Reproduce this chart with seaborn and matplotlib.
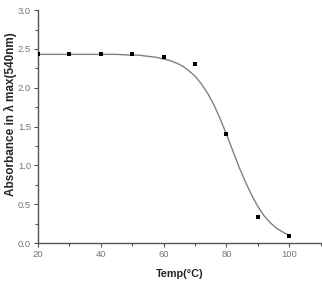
import matplotlib
matplotlib.use("Agg")
import matplotlib.pyplot as plt
from matplotlib.ticker import MultipleLocator, FormatStrFormatter
import seaborn as sns

# measured points
temp = [20, 30, 40, 50, 60, 70, 80, 90, 100]
absorbance = [2.43, 2.43, 2.43, 2.43, 2.40, 2.30, 1.40, 0.33, 0.09]

# fitted curve
fit_temp = [20, 25, 30, 35, 40, 45, 50, 52, 54, 56, 58, 60, 62, 64, 66, 68, 70,
            72, 74, 76, 78, 80, 82, 84, 86, 88, 90, 92, 94, 96, 98, 100]
fit_abs = [2.43, 2.43, 2.43, 2.43, 2.43, 2.43, 2.42, 2.42, 2.41, 2.40, 2.39,
           2.37, 2.35, 2.32, 2.28, 2.22, 2.15, 2.05, 1.93, 1.78, 1.60, 1.40,
           1.19, 0.98, 0.79, 0.62, 0.47, 0.35, 0.26, 0.19, 0.14, 0.10]

sns.set_style("ticks")
plt.rcParams['font.family'] = ['Liberation Sans', 'DejaVu Sans']

fig = plt.figure(figsize=(3.22, 2.81), dpi=100)
ax = fig.add_axes([0.118, 0.135, 0.878, 0.829])

sns.lineplot(x=fit_temp, y=fit_abs, ax=ax, color="#808080", linewidth=1.0)
sns.scatterplot(x=temp, y=absorbance, ax=ax, marker="s", s=11, color="black",
                edgecolor="black", linewidth=0, zorder=3)

ax.set_xlim(20, 110)
ax.set_ylim(0, 3.0)
ax.xaxis.set_major_locator(MultipleLocator(20))
ax.xaxis.set_minor_locator(MultipleLocator(10))
ax.yaxis.set_major_locator(MultipleLocator(0.5))
ax.yaxis.set_minor_locator(MultipleLocator(0.25))
ax.yaxis.set_major_formatter(FormatStrFormatter("%.1f"))
ax.set_xticks([20, 40, 60, 80, 100])

sns.despine(ax=ax)
for side in ["left", "bottom"]:
    ax.spines[side].set_color("#555555")
    ax.spines[side].set_linewidth(1.0)

tick_font = ['Liberation Sans Narrow', 'Liberation Sans', 'DejaVu Sans']
ax.tick_params(which="major", length=3, width=0.8, color="#555555",
               labelsize=6.8, labelcolor="#777777", pad=2)
ax.tick_params(which="minor", length=2, width=0.8, color="#555555")
for lab in ax.get_xticklabels() + ax.get_yticklabels():
    lab.set_family(tick_font)

ax.set_xlabel("Temp(°C)", fontsize=7.8, fontweight="bold", labelpad=7)
ax.set_ylabel("Absorbance in λ max(540nm)", fontsize=8.5, fontweight="bold", va="center")
ax.yaxis.set_label_coords(-0.098, 0.555)

fig.savefig("out.png", dpi=100)
